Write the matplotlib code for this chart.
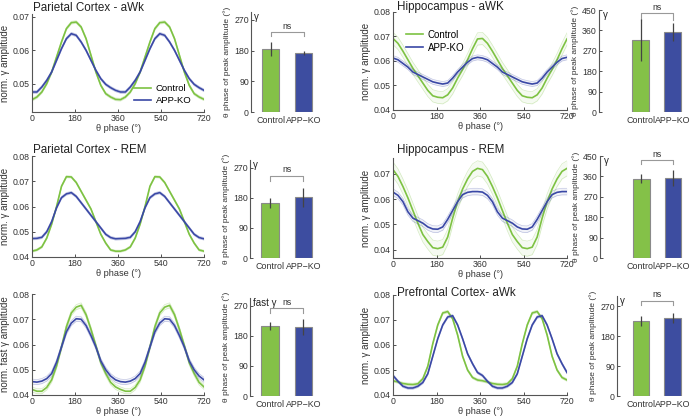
import numpy as np
import matplotlib
matplotlib.use("Agg")
import matplotlib.pyplot as plt

plt.rcParams['font.family'] = ['Liberation Sans', 'DejaVu Sans']

W, H = 700, 418
GREEN = '#7dc242'
BLUE = '#3a48a6'
BAR_GREEN = '#84c148'
BAR_BLUE = '#3d4da0'

# ---------------- data: one theta cycle (18 bins), drawn twice ----------------
groups = ['Control', 'APP−KO']
legend_labels = ['Control', 'APP-KO']

pc_awk_ctrl = [0.0452, 0.0460, 0.0475, 0.0500, 0.0535, 0.0580, 0.0625, 0.0665, 0.0683,
               0.0685, 0.0670, 0.0635, 0.0585, 0.0535, 0.0495, 0.0470, 0.0460, 0.0453]
pc_awk_ko = [0.0475, 0.0475, 0.0490, 0.0510, 0.0535, 0.0570, 0.0605, 0.0635, 0.0650,
             0.0645, 0.0625, 0.0600, 0.0570, 0.0540, 0.0515, 0.0498, 0.0488, 0.0480]

hc_awk_ctrl = [0.0692, 0.0672, 0.0640, 0.0605, 0.0570, 0.0540, 0.0510, 0.0480, 0.0458,
               0.0452, 0.0450, 0.0462, 0.0490, 0.0530, 0.0565, 0.0605, 0.0650, 0.0690]
hc_awk_ko = [0.0612, 0.0605, 0.0590, 0.0575, 0.0555, 0.0545, 0.0535, 0.0525, 0.0515,
             0.0510, 0.0506, 0.0510, 0.0530, 0.0555, 0.0575, 0.0595, 0.0610, 0.0615]

pc_rem_ctrl = [0.0423, 0.0428, 0.0440, 0.0475, 0.0530, 0.0600, 0.0680, 0.0718, 0.0717,
               0.0695, 0.0660, 0.0625, 0.0590, 0.0540, 0.0490, 0.0455, 0.0428, 0.0423]
pc_rem_ko = [0.0473, 0.0474, 0.0478, 0.0500, 0.0540, 0.0595, 0.0635, 0.0650, 0.0655,
             0.0640, 0.0615, 0.0590, 0.0565, 0.0540, 0.0515, 0.0490, 0.0477, 0.0472]

hc_rem_ctrl = [0.0717, 0.0690, 0.0650, 0.0605, 0.0555, 0.0505, 0.0460, 0.0432, 0.0408,
               0.0404, 0.0410, 0.0450, 0.0525, 0.0590, 0.0640, 0.0680, 0.0710, 0.0722]
hc_rem_ko = [0.0628, 0.0615, 0.0590, 0.0550, 0.0525, 0.0515, 0.0505, 0.0490, 0.0482,
             0.0481, 0.0490, 0.0520, 0.0555, 0.0590, 0.0618, 0.0627, 0.0630, 0.0630]

fg_awk_ctrl = [0.0422, 0.0415, 0.0415, 0.0430, 0.0460, 0.0515, 0.0590, 0.0670, 0.0725,
               0.0748, 0.0755, 0.0718, 0.0660, 0.0595, 0.0528, 0.0485, 0.0450, 0.0432]
fg_awk_ko = [0.0453, 0.0451, 0.0455, 0.0465, 0.0485, 0.0530, 0.0590, 0.0650, 0.0685,
             0.0702, 0.0700, 0.0675, 0.0635, 0.0590, 0.0535, 0.0500, 0.0475, 0.0460]

pfc_awk_ctrl = [0.0457, 0.0452, 0.0446, 0.0443, 0.0442, 0.0445, 0.0465, 0.0515, 0.0605,
                0.0680, 0.0728, 0.0734, 0.0705, 0.0640, 0.0555, 0.0500, 0.0470, 0.0460]
pfc_awk_ko = [0.0478, 0.0455, 0.0435, 0.0428, 0.0428, 0.0435, 0.0450, 0.0485, 0.0555,
              0.0625, 0.0680, 0.0712, 0.0717, 0.0680, 0.0625, 0.0565, 0.0525, 0.0490]

# SEM band half-widths
sem = {'pc_awk': (0.0004, 0.0004), 'hc_awk': (0.0025, 0.0010), 'pc_rem': (0.0004, 0.0005),
       'hc_rem': (0.0030, 0.0013), 'fg_awk': (0.0010, 0.0010), 'pfc_awk': (0.0005, 0.0005)}

# bar values: mean and error (theta phase of peak amplitude, deg)
bar_pc_awk = [184, 174];  err_pc_awk = [20, 6]
bar_hc_awk = [318, 353];  err_hc_awk = [92, 38]
bar_pc_rem = [164, 181];  err_pc_rem = [15, 28]
bar_hc_rem = [350, 354];  err_hc_rem = [19, 36]
bar_fg_awk = [209, 206];  err_fg_awk = [13, 24]
bar_pfc_awk = [224, 234]; err_pfc_awk = [15, 14]

xticks_phase = [0, 180, 360, 540, 720]


def ax_px(left, top, right, bottom):
    return fig.add_axes([left / W, 1 - bottom / H, (right - left) / W, (bottom - top) / H])


def style(ax):
    for s in ['top', 'right']:
        ax.spines[s].set_visible(False)
    for s in ['left', 'bottom']:
        ax.spines[s].set_color('#555555')
        ax.spines[s].set_linewidth(0.8)
    ax.tick_params(labelsize=6.3, length=2, width=0.6, colors='#333333', pad=1.5, direction='in')
    ax.patch.set_alpha(0)


fig = plt.figure(figsize=(W / 100, H / 100), dpi=100)


def line_panel(rect, ctrl, ko, s, ylim, yticks, ylabel, title, title_xy, legend=None):
    ax = ax_px(*rect)
    style(ax)
    yc = np.concatenate([ctrl, ctrl])
    yk = np.concatenate([ko, ko])
    x = np.linspace(0, 720, len(yc))
    for y, c, e, lab in [(yc, GREEN, s[0], legend_labels[0]), (yk, BLUE, s[1], legend_labels[1])]:
        ax.fill_between(x, y - e, y + e, color=c, alpha=0.07, lw=0)
        ax.plot(x, y - e, color=c, lw=0.5, alpha=0.3)
        ax.plot(x, y + e, color=c, lw=0.5, alpha=0.3)
        ax.plot(x, y, color=c, lw=1.2, label=lab)
    ax.set_xlim(0, 720)
    ax.set_ylim(*ylim)
    ax.set_xticks(xticks_phase)
    ax.set_yticks(yticks)
    ax.set_yticklabels(['%.2f' % v for v in yticks])
    ax.set_xlabel('θ phase (°)', fontsize=6.6, labelpad=1, color='#333333')
    ax.set_ylabel(ylabel, fontsize=7, labelpad=2, color='#333333')
    if title:
        fig.text(title_xy[0] / W, 1 - title_xy[1] / H, title, fontsize=8.4, va='center',
                 ha='left', color='#222222')
    if legend is not None:
        h, l = ax.get_legend_handles_labels()
        ax.legend([h[0], h[1]], [l[0], l[1]], loc=legend[0],
                  bbox_to_anchor=legend[1], frameon=False, fontsize=legend[2], handlelength=1.8,
                  handletextpad=0.5, labelspacing=0.3, borderaxespad=0)
    return ax


def bar_panel(rect, xlim, ylim, yticks, vals, errs, band, bracket, ns_y):
    ax = ax_px(*rect)
    style(ax)
    ax.spines['bottom'].set_visible(False)
    ax.bar([0, 1], vals, width=0.52, color=[BAR_GREEN, BAR_BLUE], edgecolor='#8a8a8a',
           linewidth=0.8, zorder=2)
    ax.errorbar([0, 1], vals, yerr=errs, fmt='none', ecolor='#444444', elinewidth=0.9,
                capsize=0, zorder=3)
    ax.set_xlim(*xlim)
    ax.set_ylim(*ylim)
    ax.set_yticks(yticks)
    ax.set_xticks([0, 1])
    ax.set_xticklabels(groups, fontsize=6.4)
    ax.tick_params(axis='x', length=0, pad=3)
    ax.set_ylabel('θ phase of peak amplitude (°)', fontsize=6, labelpad=2, color='#333333')
    ax.text(0.04, 1.0, band, transform=ax.transAxes, fontsize=7, va='top', ha='left',
            color='#222222')
    ytop, ybot = bracket
    ax.plot([0, 0, 1, 1], [ybot, ytop, ytop, ybot], color='#999999', lw=0.8, clip_on=False)
    ax.text(0.5, ns_y, 'ns', ha='center', va='bottom', fontsize=6.3, color='#333333',
            clip_on=False)
    return ax


g_lab = 'norm. γ amplitude'
# row 1
line_panel((32, 14, 204, 112), pc_awk_ctrl, pc_awk_ko, sem['pc_awk'], (0.0415, 0.0709),
           [0.05, 0.06, 0.07], g_lab, 'Parietal Cortex - aWk', (33, 8),
           legend=('lower right', (0.95, 0.03), 6.8))
line_panel((393, 12, 567, 110), hc_awk_ctrl, hc_awk_ko, sem['hc_awk'], (0.04, 0.08),
           [0.04, 0.05, 0.06, 0.07, 0.08], g_lab, 'Hippocampus - aWK', (397, 7),
           legend=('upper left', (0.05, 0.86), 7))
bar_panel((251, 12, 330, 112), (-0.6, 1.8), (0, 293), [0, 90, 180, 270],
          bar_pc_awk, err_pc_awk, 'γ', (234, 224), 238)
bar_panel((599, 10, 695, 112), (-1.31, 1.7), (0, 450), [0, 90, 180, 270, 360, 450],
          bar_hc_awk, err_hc_awk, 'γ', (435, 408), 440)

# row 2
line_panel((32, 156, 204, 257), pc_rem_ctrl, pc_rem_ko, sem['pc_rem'], (0.04, 0.08),
           [0.04, 0.05, 0.06, 0.07, 0.08], g_lab, 'Parietal Cortex - REM', (33, 150))
line_panel((393, 158, 567, 258), hc_rem_ctrl, hc_rem_ko, sem['hc_rem'], (0.0367, 0.0763),
           [0.04, 0.05, 0.06, 0.07], g_lab, 'Hippocampus - REM', (397, 150))
bar_panel((250, 160, 330, 258), (-0.6, 1.8), (0, 293), [0, 90, 180, 270],
          bar_pc_rem, err_pc_rem, 'γ', (246, 230), 250)
bar_panel((600, 156, 695, 258), (-1.31, 1.7), (0, 450), [0, 90, 180, 270, 360, 450],
          bar_hc_rem, err_hc_rem, 'γ', (432, 413), 437)

# row 3
line_panel((32, 294, 204, 395), fg_awk_ctrl, fg_awk_ko, sem['fg_awk'], (0.04, 0.08),
           [0.04, 0.05, 0.06, 0.07, 0.08], 'norm. fast γ amplitude', None, None)
line_panel((393, 295, 567, 395), pfc_awk_ctrl, pfc_awk_ko, sem['pfc_awk'], (0.04, 0.08),
           [0.04, 0.05, 0.06, 0.07, 0.08], g_lab, 'Prefrontal Cortex- aWk', (397, 293))
bar_panel((250, 298, 330, 396), (-0.6, 1.8), (0, 293), [0, 90, 180, 270],
          bar_fg_awk, err_fg_awk, 'fast γ', (262, 249), 266)
bar_panel((617, 296, 695, 396), (-0.75, 1.7), (0, 300), [0, 90, 180, 270],
          bar_pfc_awk, err_pfc_awk, 'γ', (286, 273), 290)

fig.savefig('out.png', dpi=100)
